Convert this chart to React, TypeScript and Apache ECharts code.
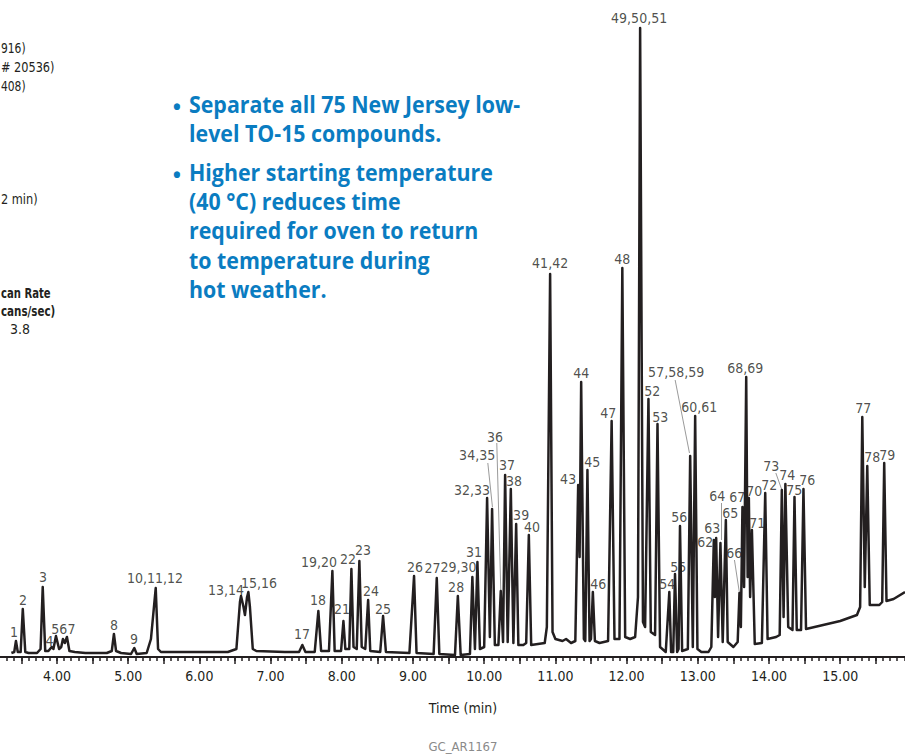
import React, { useEffect, useRef } from "react";
import * as echarts from "echarts";

// Chromatogram trace: [time (min), detector signal (arbitrary units)]
const trace: number[][] = [
  [3.36, 4], [3.40, 5], [3.424, 16], [3.45, 5], [3.49, 5], [3.52, 48], [3.555, 5], [3.60, 4],
  [3.72, 4], [3.77, 8], [3.80, 70], [3.835, 6], [3.88, 6], [3.925, 10], [3.95, 8], [3.986, 21],
  [4.03, 8], [4.06, 10], [4.084, 18], [4.11, 14], [4.14, 20], [4.175, 6], [4.25, 5], [4.40, 4],
  [4.70, 4], [4.77, 6], [4.80, 23], [4.83, 6], [4.90, 4], [5.04, 3], [5.086, 9], [5.12, 3],
  [5.26, 4], [5.32, 18], [5.387, 69], [5.42, 8], [5.46, 5], [5.8, 5], [6.4, 5], [6.52, 8],
  [6.57, 55], [6.585, 61], [6.62, 50], [6.64, 42], [6.67, 60], [6.688, 65], [6.71, 50], [6.75, 8],
  [6.80, 6], [7.2, 5], [7.40, 5], [7.446, 12], [7.49, 5], [7.62, 5], [7.671, 46], [7.71, 6],
  [7.82, 6], [7.868, 86], [7.90, 6], [7.99, 6], [8.023, 36], [8.05, 8], [8.105, 8], [8.135, 88],
  [8.165, 10], [8.21, 8], [8.247, 96], [8.28, 10], [8.33, 8], [8.37, 57], [8.40, 6], [8.54, 5],
  [8.58, 41], [8.62, 5], [8.95, 4], [9.015, 81], [9.05, 4], [9.29, 3], [9.334, 79], [9.37, 3],
  [9.59, 2], [9.63, 61], [9.67, 2], [9.80, 3], [9.834, 80], [9.87, 8], [9.905, 95], [9.94, 8],
  [10.00, 10], [10.041, 159], [10.08, 20], [10.111, 148], [10.15, 12], [10.20, 12], [10.233, 66],
  [10.265, 15], [10.294, 182], [10.33, 15], [10.374, 168], [10.41, 14], [10.449, 133], [10.48, 12],
  [10.55, 12], [10.59, 14], [10.627, 122], [10.66, 12], [10.85, 14], [10.88, 30], [10.926, 383],
  [10.96, 25], [11.0, 18], [11.1, 16], [11.15, 18], [11.22, 14], [11.28, 16], [11.32, 172],
  [11.34, 100], [11.362, 275], [11.40, 18], [11.42, 16], [11.45, 187], [11.48, 16], [11.50, 18],
  [11.526, 65], [11.555, 16], [11.62, 14], [11.74, 16], [11.79, 236], [11.83, 18], [11.90, 18],
  [11.94, 389], [11.98, 20], [12.05, 18], [12.12, 20], [12.16, 60], [12.19, 629], [12.23, 35],
  [12.26, 30], [12.307, 258], [12.34, 25], [12.40, 22], [12.434, 233], [12.47, 10], [12.55, 5],
  [12.60, 65], [12.625, 5], [12.655, 5], [12.68, 83], [12.71, 5], [12.73, 8], [12.75, 131],
  [12.78, 6], [12.86, 8], [12.893, 201], [12.93, 10], [12.963, 241], [12.995, 8], [13.05, 5],
  [13.15, 5], [13.19, 10], [13.225, 117], [13.24, 60], [13.258, 119], [13.285, 20], [13.318, 114],
  [13.35, 15], [13.394, 137], [13.42, 15], [13.50, 10], [13.56, 15], [13.585, 64], [13.605, 30],
  [13.627, 150], [13.65, 70], [13.68, 280], [13.70, 80], [13.717, 159], [13.735, 60], [13.76, 127],
  [13.80, 13], [13.90, 14], [13.947, 164], [13.98, 18], [14.10, 20], [14.15, 22], [14.18, 167],
  [14.205, 40], [14.23, 173], [14.27, 30], [14.33, 27], [14.358, 160], [14.39, 27], [14.45, 27],
  [14.484, 168], [14.52, 28], [14.76, 32], [15.0, 36], [15.235, 42], [15.28, 50], [15.31, 240],
  [15.345, 70], [15.38, 191], [15.415, 52], [15.55, 52], [15.59, 55], [15.618, 194], [15.65, 56],
  [15.75, 58], [15.91, 65],
];

// Peak labels: text, and the point (time, signal) where each label sits
const peakLabelTexts: string[] = [
  "1", "2", "3", "4", "567", "8", "9", "10,11,12", "13,14", "15,16", "17", "18", "19,20", "21",
  "22", "23", "24", "25", "26", "27", "28", "29,30", "31", "32,33", "34,35", "36", "37", "38",
  "39", "40", "41,42", "43", "44", "45", "46", "47", "48", "49,50,51", "52", "53", "54", "55",
  "56", "57,58,59", "60,61", "62", "63", "64", "65", "66", "67", "68,69", "70", "71", "72", "73",
  "74", "75", "76", "77", "78", "79",
];
const peakLabelTimes: number[] = [
  3.396, 3.522, 3.803, 3.895, 4.09, 4.801, 5.082, 5.377, 6.374, 6.838, 7.442, 7.667, 7.681, 8.004,
  8.088, 8.299, 8.411, 8.580, 9.030, 9.275, 9.606, 9.640, 9.858, 9.830, 9.901, 10.153, 10.322, 10.420,
  10.519, 10.673, 10.926, 11.179, 11.362, 11.517, 11.601, 11.741, 11.938, 12.176, 12.359, 12.472, 12.570, 12.724,
  12.738, 12.696, 13.019, 13.104, 13.202, 13.272, 13.455, 13.511, 13.553, 13.666, 13.792, 13.834, 14.003, 14.031,
  14.256, 14.354, 14.537, 15.323, 15.450, 15.661,
];
const peakLabelSignals: number[] = [
  25, 57, 80, 16, 28, 32, 18, 79, 67, 74, 23, 57, 95, 48,
  98, 107, 66, 48, 90, 89, 70, 90, 105, 167, 202, 220, 192, 176,
  142, 130, 394, 178, 284, 195, 73, 244, 398, 639, 266, 240, 73, 90,
  140, 285, 250, 115, 129, 161, 144, 104, 160, 289, 166, 134, 172, 191,
  182, 167, 177, 249, 200, 202,
];

// Leader lines from a label to its peak: [[t1, s1], [t2, s2]]
const leaderLines: number[][][] = [
  [[10.051, 194], [10.116, 150]],
  [[10.177, 214], [10.233, 67]],
  [[12.682, 277], [12.883, 204]],
  [[13.324, 154], [13.324, 117]],
  [[13.515, 97], [13.585, 64]],
  [[14.096, 184], [14.181, 167]],
];

const xTickLabels: number[] = [4, 5, 6, 7, 8, 9, 10, 11, 12, 13, 14, 15];

const bulletLines: string[] = [
  "Separate all 75 New Jersey low-",
  "level TO-15 compounds.",
  "Higher starting temperature",
  "(40 °C) reduces time",
  "required for oven to return",
  "to temperature during",
  "hot weather.",
];

const leftFragments: string[] = ["916)", "# 20536)", "408)", "2 min)", "can Rate", "cans/sec)", "3.8"];

const X_MIN = 3.2;
const X_MAX = 15.91;

const INK = "#231f20";
const BLUE = "#0a7cc1";
const NARROW = '"Liberation Sans Narrow", "DejaVu Sans Condensed", Roboto, sans-serif';

export default function App() {
  const ref = useRef<HTMLDivElement>(null);

  useEffect(() => {
    if (!ref.current) return;
    const chart = echarts.init(ref.current, undefined, { renderer: "svg" });

    const halfTicks: number[] = [];
    for (let i = 7; i <= 31; i++) halfTicks.push(i / 2);
    const tenthTicks: number[] = [];
    for (let i = 33; i <= 159; i++) tenthTicks.push(i / 10);

    const labelData = peakLabelTexts.map((t, i) => [peakLabelTimes[i], peakLabelSignals[i], t]);

    const blueCenters = [104, 133, 172, 201, 230, 260, 289];
    const graphics: any[] = [];
    bulletLines.forEach((line, i) => {
      graphics.push({
        type: "text",
        x: 189,
        y: blueCenters[i],
        scaleX: 0.89,
        originX: 0,
        style: {
          text: line,
          fill: BLUE,
          font: 'bold 24px "Open Sans", sans-serif',
          verticalAlign: "middle",
        },
      });
    });
    [0, 2].forEach((i) => {
      graphics.push({
        type: "text",
        x: 177,
        y: blueCenters[i] + 2,
        style: {
          text: "•",
          fill: BLUE,
          font: 'bold 22px "Open Sans", sans-serif',
          align: "center",
          verticalAlign: "middle",
        },
      });
    });
    const fragPos: [number, number, boolean, number][] = [
      [1, 48, false, 0.85],
      [1, 67, false, 0.9],
      [1, 86, false, 0.85],
      [1, 199, false, 0.9],
      [1, 293, true, 0.8],
      [1, 311, true, 0.82],
    ];
    leftFragments.forEach((t, i) => {
      if (i < fragPos.length) {
        const [x, y, bold, sx] = fragPos[i];
        graphics.push({
          type: "text",
          x,
          y,
          scaleX: sx,
          originX: 0,
          style: {
            text: t,
            fill: INK,
            font: `${bold ? "bold " : ""}14px ${NARROW}`,
            align: "left",
            verticalAlign: "middle",
          },
        });
      } else {
        graphics.push({
          type: "text",
          x: 20,
          y: 329,
          style: { text: t, fill: INK, font: `14px ${NARROW}`, align: "center", verticalAlign: "middle" },
        });
      }
    });
    graphics.push({
      type: "text",
      x: 463,
      y: 708,
      style: { text: "Time (min)", fill: INK, font: `14px ${NARROW}`, align: "center", verticalAlign: "middle" },
    });
    graphics.push({
      type: "text",
      x: 463,
      y: 746,
      style: { text: "GC_AR1167", fill: "#8a8a8a", font: `13px ${NARROW}`, align: "center", verticalAlign: "middle" },
    });

    chart.setOption({
      animation: false,
      backgroundColor: "#ffffff",
      grid: { left: 0, right: 0, top: 0, bottom: 99, containLabel: false },
      xAxis: [
        {
          type: "value",
          min: X_MIN,
          max: X_MAX,
          position: "bottom",
          axisLine: { show: true, onZero: false, lineStyle: { color: INK, width: 2 } },
          axisTick: { show: true, customValues: halfTicks, length: 7, inside: false, lineStyle: { color: INK, width: 1.5 } },
          axisLabel: {
            show: true,
            customValues: xTickLabels,
            formatter: (v: number) => v.toFixed(2),
            color: INK,
            fontSize: 14,
            fontFamily: NARROW,
            margin: 12,
            showMinLabel: true,
            showMaxLabel: true,
          },
          splitLine: { show: false },
        },
        {
          type: "value",
          min: X_MIN,
          max: X_MAX,
          position: "bottom",
          offset: 0,
          axisLine: { show: false, onZero: false },
          axisTick: { show: true, customValues: tenthTicks, length: 4, lineStyle: { color: INK, width: 1.5 } },
          axisLabel: { show: false },
          splitLine: { show: false },
        },
      ],
      yAxis: { type: "value", min: 0, max: 657, show: false },
      series: [
        {
          type: "line",
          data: trace,
          xAxisIndex: 0,
          symbol: "none",
          lineStyle: { color: INK, width: 2.5, join: "round" },
          z: 2,
        },
        {
          type: "lines",
          coordinateSystem: "cartesian2d",
          xAxisIndex: 0,
          polyline: false,
          data: leaderLines.map((c) => ({ coords: c })),
          lineStyle: { color: "#9a9a9a", width: 1, opacity: 1 },
          z: 1,
        },
        {
          type: "scatter",
          xAxisIndex: 0,
          data: labelData,
          symbolSize: 1,
          itemStyle: { color: "rgba(0,0,0,0)" },
          label: {
            show: true,
            position: "inside",
            formatter: (p: any) => p.value[2],
            color: INK,
            fontSize: 14,
            fontFamily: NARROW,
          },
          z: 3,
        },
      ],
      graphic: graphics,
    });

    return () => chart.dispose();
  }, []);

  return (
    <div
      ref={ref}
      style={{ position: "absolute", left: 0, top: 0, width: 905, height: 756 }}
    />
  );
}
